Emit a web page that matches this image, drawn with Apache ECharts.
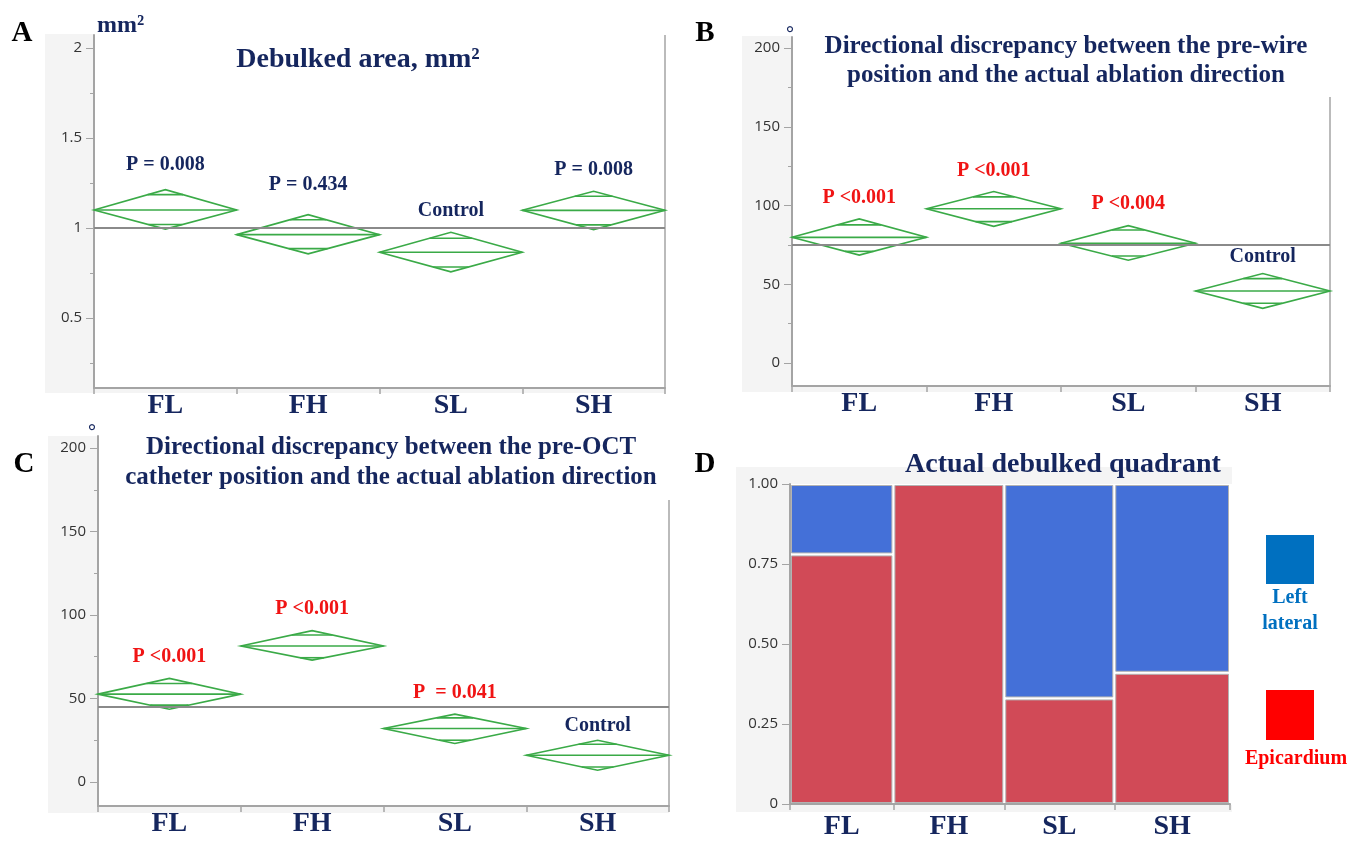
<!DOCTYPE html>
<html><head><meta charset="utf-8">
<script src="https://cdn.jsdelivr.net/npm/echarts@6/dist/echarts.min.js"></script>
<style>html,body{margin:0;padding:0;background:#fff}#c{width:1354px;height:841px}</style>
</head><body><div id="c"></div>
<script>
// ---------- DATA ----------
const groups = ['FL', 'FH', 'SL', 'SH'];

// Panel A: Debulked area, mm2 (means diamonds)
const aMean   = [1.100, 0.963, 0.865, 1.098];
const aLower  = [0.994, 0.856, 0.756, 0.991];
const aUpper  = [1.213, 1.074, 0.976, 1.204];
const aMarkLo = [1.019, 0.885, 0.783, 1.017];
const aMarkHi = [1.185, 1.046, 0.943, 1.176];
const aControl = 1.0;
const aLabels = ['P = 0.008', 'P = 0.434', 'Control', 'P = 0.008'];
const aTicks = [0.5, 1, 1.5, 2];
const aMinorTicks = [0.25, 0.75, 1.25, 1.75];

// Panel B: pre-wire vs actual ablation direction (degrees)
const bMean   = [79.8, 97.9, 76.0, 45.7];
const bLower  = [68.5, 86.8, 65.3, 34.7];
const bUpper  = [91.5, 108.9, 87.2, 56.8];
const bMarkLo = [70.9, 89.8, 67.9, 37.9];
const bMarkHi = [87.7, 105.5, 84.5, 53.6];
const bControl = 75;
const bLabels = ['P <0.001', 'P <0.001', 'P <0.004', 'Control'];

// Panel C: pre-OCT catheter vs actual ablation direction (degrees)
const cMean   = [52.6, 81.4, 32.0, 16.0];
const cLower  = [43.6, 73.0, 23.0, 7.0];
const cUpper  = [62.0, 90.6, 40.6, 25.0];
const cMarkLo = [46.0, 74.4, 25.0, 9.0];
const cMarkHi = [59.0, 88.0, 38.4, 22.6];
const cControl = 45;
const cLabels = ['P <0.001', 'P <0.001', 'P  = 0.041', 'Control'];

const degTicks = [0, 50, 100, 150, 200];
const degMinorTicks = [25, 75, 125, 175];

// Panel D: Actual debulked quadrant (mosaic)
const dWidths      = [0.235, 0.252, 0.250, 0.263];
const dEpicardium  = [0.78, 1.00, 0.33, 0.41];
const dLeftLateral = [0.22, 0.00, 0.67, 0.59];
const dTicks = [0, 0.25, 0.5, 0.75, 1];

// ---------- STYLE ----------
const NAVY = '#15265e';
const RED = '#f01414';
const GREEN = '#3aaa47';
const AXIS = '#a4a4a4';
const STRIP = '#f4f4f4';
const SERIF = '"Liberation Serif", "Times New Roman", serif';
const SANS = '"Open Sans", "Noto Sans", sans-serif';

const aColors = [NAVY, NAVY, NAVY, NAVY];
const bColors = [RED, RED, RED, NAVY];
const cColors = [RED, RED, RED, NAVY];
const aGaps = [25, 30, 21, 21];
const bGaps = [21, 21, 22, 17];
const cGaps = [22, 22, 21, 14];

function diamondData(mean, lo, hi, mlo, mhi) {
  return mean.map((m, i) => [i, m, lo[i], hi[i], mlo[i], mhi[i]]);
}

function diamondItem(labels, colors, gaps) {
  return function (params, api) {
    const i = api.value(0);
    const c = api.coord([i, api.value(1)]);
    const cx = c[0], cy = c[1];
    const yLo = api.coord([i, api.value(2)])[1];
    const yHi = api.coord([i, api.value(3)])[1];
    const yMLo = api.coord([i, api.value(4)])[1];
    const yMHi = api.coord([i, api.value(5)])[1];
    const hw = api.size([1, 0])[0] / 2;
    const half = y => y < cy ? hw * (1 - (cy - y) / (cy - yHi)) : hw * (1 - (y - cy) / (yLo - cy));
    const st = { stroke: GREEN, lineWidth: 1.6, fill: 'none' };
    const seg = y => ({ type: 'line', shape: { x1: cx - half(y), y1: y, x2: cx + half(y), y2: y }, style: st });
    const k = params.dataIndex;
    return {
      type: 'group',
      children: [
        { type: 'polygon', shape: { points: [[cx - hw, cy], [cx, yHi], [cx + hw, cy], [cx, yLo]] }, style: st },
        { type: 'line', shape: { x1: cx - hw, y1: cy, x2: cx + hw, y2: cy }, style: st },
        seg(yMHi), seg(yMLo),
        { type: 'text', x: cx, y: yHi - gaps[k],
          style: { text: labels[k], fill: colors[k], fontFamily: SERIF, fontWeight: 'bold', fontSize: 20,
                   align: 'center', verticalAlign: 'middle' } }
      ]
    };
  };
}

function catAxis(gridIndex) {
  return {
    type: 'category', gridIndex, data: groups, position: 'bottom',
    axisLine: { show: true, onZero: false, lineStyle: { color: AXIS, width: 2 } },
    axisTick: { show: true, length: 6, lineStyle: { color: AXIS, width: 1.5 } },
    axisLabel: { margin: 4, color: NAVY, fontFamily: SERIF, fontWeight: 'bold', fontSize: 28 },
    splitLine: { show: false }
  };
}
function majorY(gridIndex, min, max, ticks, fmt) {
  return {
    type: 'value', gridIndex, min, max, position: 'left', offset: 0,
    axisLine: { show: true, onZero: false, lineStyle: { color: AXIS, width: 2 } },
    axisTick: { show: true, length: 8, customValues: ticks, lineStyle: { color: AXIS, width: 1 } },
    axisLabel: { customValues: ticks, margin: 12, color: '#333', fontFamily: SANS, fontSize: 15,
                 formatter: fmt || (v => String(v)) },
    splitLine: { show: false }
  };
}
function minorY(gridIndex, min, max, ticks) {
  return {
    type: 'value', gridIndex, min, max, position: 'left', offset: 0,
    axisLine: { show: false, onZero: false },
    axisTick: { show: true, length: 4, customValues: ticks, lineStyle: { color: AXIS, width: 1 } },
    axisLabel: { show: false },
    splitLine: { show: false }
  };
}
function ctrlLine(v) {
  return { silent: true, symbol: ['none', 'none'], label: { show: false },
           lineStyle: { color: '#8a8a8a', width: 2, type: 'solid' }, data: [{ yAxis: v }] };
}

// mosaic data
const dStarts = [];
dWidths.reduce((acc, w, i) => { dStarts[i] = acc; return acc + w; }, 0);
const dCenters = dWidths.map((w, i) => dStarts[i] + w / 2);
const dBounds = dStarts.concat([dStarts[3] + dWidths[3]]);
const epiData = dEpicardium.map((v, i) => [dStarts[i], dStarts[i] + dWidths[i], 0, v]).filter(d => d[3] > d[2]);
const latData = dLeftLateral.map((v, i) => [dStarts[i], dStarts[i] + dWidths[i], 1 - v, 1]).filter(d => d[3] > d[2]);

function mosaicItem(color) {
  return function (params, api) {
    const p0 = api.coord([api.value(0), api.value(3)]);
    const p1 = api.coord([api.value(1), api.value(2)]);
    const ins = 1.5;
    return { type: 'rect',
      shape: { x: p0[0] + ins, y: p0[1] + ins, width: p1[0] - p0[0] - 2 * ins, height: p1[1] - p0[1] - 2 * ins },
      style: { fill: color, stroke: '#b3b3b3', lineWidth: 1 } };
  };
}

function txt(x, y, text, size, color, align) {
  return { type: 'text', x, y, z: 10,
    style: { text, fill: color, fontFamily: SERIF, fontWeight: 'bold', fontSize: size,
             align: align || 'center', verticalAlign: 'middle' } };
}
function rect(x, y, w, h, fill) {
  return { type: 'rect', z: -10, shape: { x, y, width: w, height: h }, style: { fill } };
}
function vline(x, y1, y2) {
  return { type: 'line', z: 1, shape: { x1: x, y1, x2: x, y2 }, style: { stroke: AXIS, lineWidth: 1.5 } };
}

const chart = echarts.init(document.getElementById('c'), null, { renderer: 'canvas' });
chart.setOption({
  animation: false,
  backgroundColor: '#fff',
  grid: [
    { left: 94, top: 35, width: 571, height: 353 },
    { left: 792, top: 37, width: 538, height: 349 },
    { left: 98, top: 436, width: 571, height: 370 },
    { left: 790, top: 484, width: 440, height: 321 }
  ],
  xAxis: [
    catAxis(0), catAxis(1), catAxis(2),
    { type: 'value', gridIndex: 3, min: 0, max: 1, position: 'bottom',
      axisLine: { show: true, onZero: false, lineStyle: { color: AXIS, width: 2 } },
      axisTick: { show: true, length: 6, customValues: dBounds, lineStyle: { color: AXIS, width: 1.5 } },
      axisLabel: { customValues: dCenters, margin: 9, color: NAVY, fontFamily: SERIF, fontWeight: 'bold', fontSize: 28,
                   formatter: v => groups[dCenters.findIndex(c => Math.abs(c - v) < 1e-6)] || '' },
      splitLine: { show: false } }
  ],
  yAxis: [
    majorY(0, 0.111, 2.072, aTicks),
    minorY(0, 0.111, 2.072, aMinorTicks),
    majorY(1, -14.6, 207, degTicks),
    minorY(1, -14.6, 207, degMinorTicks),
    majorY(2, -14.4, 207.2, degTicks),
    minorY(2, -14.4, 207.2, degMinorTicks),
    majorY(3, 0, 1, dTicks, v => v === 0 ? '0' : v.toFixed(2))
  ],
  series: [
    { type: 'custom', name: 'A', xAxisIndex: 0, yAxisIndex: 0, renderItem: diamondItem(aLabels, aColors, aGaps),
      data: diamondData(aMean, aLower, aUpper, aMarkLo, aMarkHi), encode: { x: 0, y: [1, 2, 3] }, markLine: ctrlLine(aControl) },
    { type: 'custom', name: 'B', xAxisIndex: 1, yAxisIndex: 2, renderItem: diamondItem(bLabels, bColors, bGaps),
      data: diamondData(bMean, bLower, bUpper, bMarkLo, bMarkHi), encode: { x: 0, y: [1, 2, 3] }, markLine: ctrlLine(bControl) },
    { type: 'custom', name: 'C', xAxisIndex: 2, yAxisIndex: 4, renderItem: diamondItem(cLabels, cColors, cGaps),
      data: diamondData(cMean, cLower, cUpper, cMarkLo, cMarkHi), encode: { x: 0, y: [1, 2, 3] }, markLine: ctrlLine(cControl) },
    { type: 'custom', name: 'Epicardium', xAxisIndex: 3, yAxisIndex: 6, renderItem: mosaicItem('#d14a57'),
      data: epiData, encode: { x: [0, 1], y: [2, 3] } },
    { type: 'custom', name: 'Left lateral', xAxisIndex: 3, yAxisIndex: 6, renderItem: mosaicItem('#4470d8'),
      data: latData, encode: { x: [0, 1], y: [2, 3] } }
  ],
  graphic: [
    // axis-area shading
    rect(45, 34, 49, 359, STRIP), rect(94, 388, 571, 5, STRIP),
    rect(742, 36, 50, 356, STRIP), rect(792, 386, 538, 6, STRIP),
    rect(48, 436, 50, 377, STRIP), rect(98, 806, 571, 7, STRIP),
    rect(736, 467, 54, 345, STRIP), rect(790, 467, 442, 17, STRIP), rect(790, 805, 442, 7, STRIP),
    // right frame lines
    vline(665, 35, 388), vline(1330, 97, 386), vline(669, 500, 806),
    // panel letters
    txt(22, 34, 'A', 29, '#000'), txt(705, 34, 'B', 29, '#000'),
    txt(24, 465, 'C', 29, '#000'), txt(705, 465, 'D', 29, '#000'),
    // titles and units
    txt(97, 26, 'mm²', 24, NAVY, 'left'),
    txt(358, 60, 'Debulked area, mm²', 28, NAVY),
    txt(790, 35, '°', 20, NAVY),
    txt(1066, 47, 'Directional discrepancy between the pre-wire', 25, NAVY),
    txt(1066, 76, 'position and the actual ablation direction', 25, NAVY),
    txt(92, 433, '°', 20, NAVY),
    txt(391, 448, 'Directional discrepancy between the pre-OCT', 25, NAVY),
    txt(391, 478, 'catheter position and the actual ablation direction', 25, NAVY),
    txt(1063, 465, 'Actual debulked quadrant', 28, NAVY),
    // legend
    { type: 'rect', z: 10, shape: { x: 1266, y: 535, width: 48, height: 49 }, style: { fill: '#0070c0' } },
    txt(1290, 598, 'Left', 20, '#0070c0'),
    txt(1290, 624, 'lateral', 20, '#0070c0'),
    { type: 'rect', z: 10, shape: { x: 1266, y: 690, width: 48, height: 50 }, style: { fill: '#ff0000' } },
    txt(1296, 759, 'Epicardium', 20, '#ff0000')
  ]
});
</script></body></html>
